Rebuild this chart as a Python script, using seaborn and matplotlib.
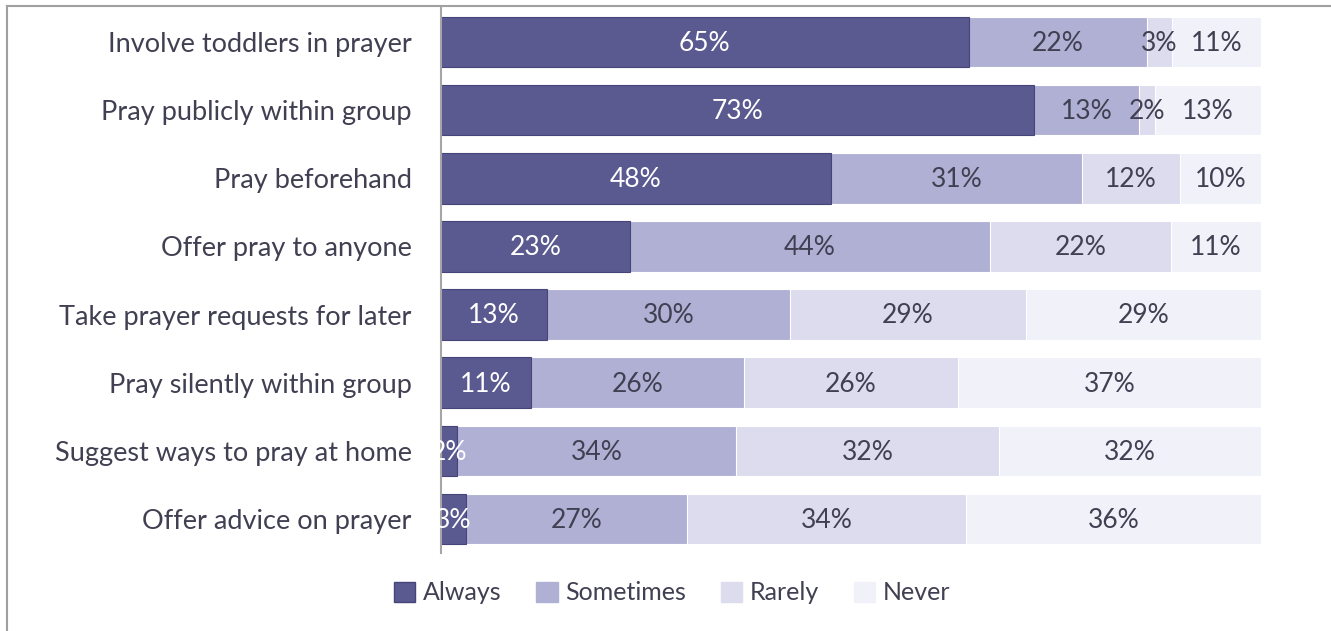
import numpy as np
import pandas as pd
import matplotlib
matplotlib.use("Agg")
import matplotlib.pyplot as plt
from matplotlib.lines import Line2D
from matplotlib.patches import Patch
import seaborn as sns

# ==================================================
# DATA
# ==================================================

items = [
    "Involve toddlers in prayer",
    "Pray publicly within group",
    "Pray beforehand",
    "Offer pray to anyone",
    "Take prayer requests for later",
    "Pray silently within group",
    "Suggest ways to pray at home",
    "Offer advice on prayer",
]

always = [65, 73, 48, 23, 13, 11, 2, 3]
sometimes = [22, 13, 31, 44, 30, 26, 34, 27]
rarely = [3, 2, 12, 22, 29, 26, 32, 34]
never = [11, 13, 10, 11, 29, 37, 32, 36]

series_names = ["Always", "Sometimes", "Rarely", "Never"]
colors = ["#5a5a90", "#b0b0d5", "#dcdcee", "#f1f1f9"]
edge_colors = ["#45457a", "#ffffff", "#ffffff", "#ffffff"]
label_colors = ["white", "#404052", "#404052", "#404052"]

# ==================================================
# PREP
# ==================================================

vals = np.array([always, sometimes, rarely, never], dtype=float)
share = vals / vals.sum(axis=0)
cum = np.cumsum(share, axis=0)

df = pd.DataFrame({"item": items})
for i, name in enumerate(series_names):
    df[name + "_cum"] = cum[i]

plt.rcParams["font.family"] = ["Lato", "DejaVu Sans"]
text_color = "#404052"

fig = plt.figure(figsize=(13.31, 6.31), dpi=100)
ax = fig.add_axes([441 / 1331, 1 - 553 / 631, 820 / 1331, 545 / 631])

# draw largest cumulative first so each segment shows
for i in reversed(range(4)):
    sns.barplot(
        data=df,
        x=series_names[i] + "_cum",
        y="item",
        orient="h",
        color=colors[i],
        edgecolor=edge_colors[i],
        linewidth=0.8,
        width=0.74,
        saturation=1,
        ax=ax,
    )

# segment labels
for r in range(len(items)):
    for i in range(4):
        start = 0 if i == 0 else cum[i - 1, r]
        mid = (start + cum[i, r]) / 2
        ax.text(
            mid, r + 0.02, f"{int(vals[i, r])}%",
            ha="center", va="center",
            fontsize=19, color=label_colors[i],
        )

ax.set_xlim(0, 1)
ax.set_ylim(7.5, -0.5)
ax.set_xlabel("")
ax.set_ylabel("")
ax.set_xticks([])
ax.tick_params(axis="y", length=0, pad=21, labelsize=19.5, labelcolor=text_color)

for side in ["top", "right", "bottom"]:
    ax.spines[side].set_visible(False)
ax.spines["left"].set_color("#a6a6a6")
ax.spines["left"].set_linewidth(1.5)

# outer frame (left and top edges visible)
fig.add_artist(Line2D([7 / 1331, 7 / 1331], [0, 1 - 6 / 631],
                      transform=fig.transFigure, color="#a0a0a0", lw=1.5))
fig.add_artist(Line2D([7 / 1331, 1], [1 - 6 / 631, 1 - 6 / 631],
                      transform=fig.transFigure, color="#a0a0a0", lw=1.5))

handles = [
    Patch(facecolor=colors[i], edgecolor=edge_colors[i] if i == 0 else colors[i])
    for i in range(4)
]
fig.legend(
    handles, series_names,
    loc="center", bbox_to_anchor=(0.505, 1 - 593 / 631),
    ncol=4, frameon=False, fontsize=18,
    handlelength=0.85, handleheight=0.85, handletextpad=0.3,
    columnspacing=1.4, labelcolor=text_color,
)

fig.savefig("out.png", dpi=100)
